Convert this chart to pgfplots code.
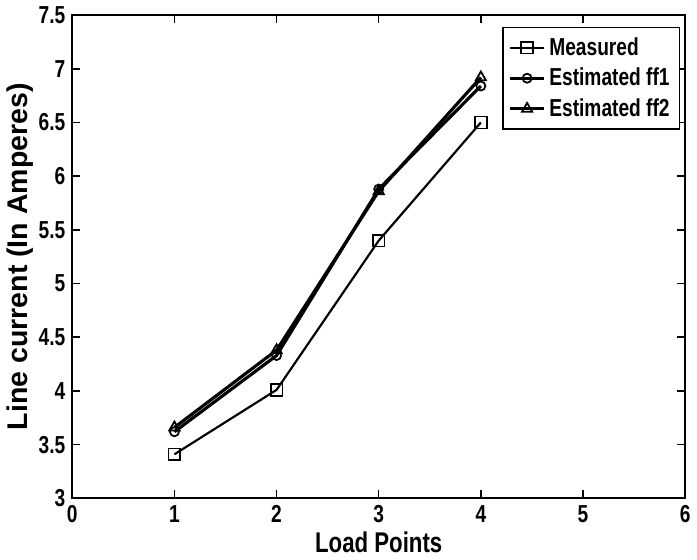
\documentclass[border=0pt]{standalone}
\usepackage{fontspec}
\setmainfont{Liberation Sans}[FakeStretch=0.78]
\newfontfamily\widefont{Liberation Sans}
\usepackage{pgfplots}
\pgfplotsset{compat=1.18}

\begin{document}
\begin{tikzpicture}
\begin{axis}[
  scale only axis,
  width=312pt, height=246pt,
  xmin=0, xmax=6, ymin=3, ymax=7.5,
  xtick={0,1,...,6}, ytick={3,3.5,...,7.5},
  xticklabel={\textbf{\pgfmathprintnumber[assume math mode=true]{\tick}}},
  yticklabel={\textbf{\pgfmathprintnumber[fixed,assume math mode=true]{\tick}}},
  tick label style={font=\bfseries\fontsize{12.5}{14}\selectfont},
  xlabel={\bfseries\fontsize{14.5}{16}\selectfont Load Points},
  ylabel={\widefont\bfseries\fontsize{14.5}{16}\selectfont Line current (In Amperes)},
  xlabel style={yshift=2pt},
  ylabel style={yshift=-4pt},
  tick align=inside, major tick length=4pt,
  axis line style={line width=0.9pt},
  every tick/.style={black, line width=0.8pt},
  legend style={at={(0.992,0.976)}, anchor=north east, draw=black, line width=0.8pt,
    font=\bfseries\fontsize{12.5}{13}\selectfont, row sep=1pt, inner sep=3pt},
  legend cell align=left,
]
\addplot[black, line width=1.1pt, mark=square, mark size=3pt, mark options={line width=0.9pt}]
  coordinates {(1,3.41)(2,4.01)(3,5.40)(4,6.50)};
\addlegendentry{Measured}
\addplot[black, line width=1.6pt, mark=o, mark size=2.3pt, mark options={line width=0.9pt}]
  coordinates {(1,3.62)(2,4.33)(3,5.88)(4,6.84)};
\addlegendentry{Estimated ff1}
\addplot[black, line width=1.6pt, mark=triangle, mark size=3pt, mark options={line width=0.9pt}]
  coordinates {(1,3.66)(2,4.38)(3,5.86)(4,6.92)};
\addlegendentry{Estimated ff2}
\end{axis}
\end{tikzpicture}
\end{document}
